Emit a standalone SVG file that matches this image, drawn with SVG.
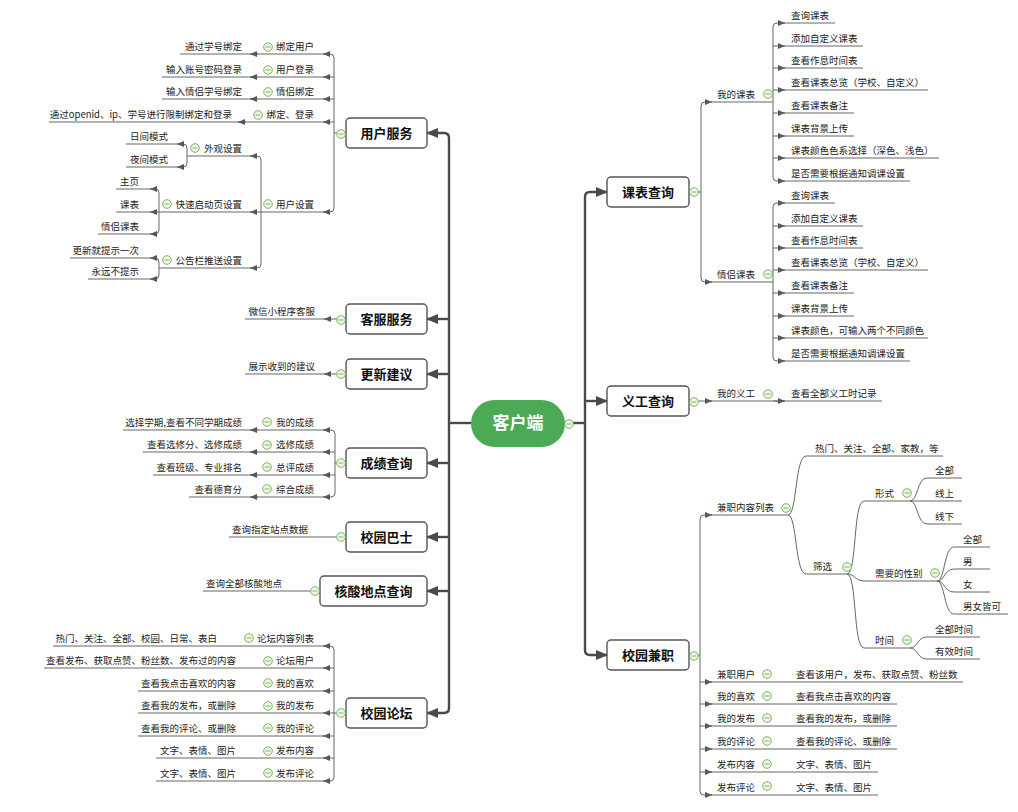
<svg xmlns="http://www.w3.org/2000/svg" xmlns:xlink="http://www.w3.org/1999/xlink" width="1018" height="812" viewBox="0 0 1018 812">
<style>
text{font-family:"Noto Sans CJK SC","Liberation Sans",sans-serif;fill:#222}
.t{font-size:9.5px}
.e{text-anchor:end}
.m{font-size:13px;font-weight:bold;text-anchor:middle;fill:#111}
.box{fill:#fff;stroke:#555;stroke-width:1.4}
.tr{fill:none;stroke:#4a4a4a;stroke-width:2.4}
.ln{fill:none;stroke:#666;stroke-width:1}
.ar{fill:none;stroke:#666;stroke-width:1;marker-end:url(#sa)}
.big{marker-end:url(#ba)}
</style>
<defs>
<marker id="ba" markerUnits="userSpaceOnUse" markerWidth="12" markerHeight="10" refX="11" refY="5" orient="auto"><path d="M0,0 L12,5 L0,10 z" fill="#4a4a4a"/></marker>
<marker id="sa" markerUnits="userSpaceOnUse" markerWidth="7" markerHeight="6" refX="7" refY="3" orient="auto"><path d="M0,0 L7,3 L0,6 z" fill="#555"/></marker>
<g id="col"><circle r="4.3" fill="#eef7e6" stroke="#7bb661" stroke-width="1"/><line x1="-2.4" x2="2.4" y1="0" y2="0" stroke="#7bb661" stroke-width="1"/></g>
</defs>
<rect width="1018" height="812" fill="#fff"/>

<g id="connectors">
<!-- main trunks -->
<path class="tr" d="M449,423 L471,423"/>
<path class="tr" d="M565,423 L585,423"/>
<path class="tr big" d="M449,423 L449,138 Q449,133 444,133 L427,133"/>
<path class="tr big" d="M449,319 L427,319"/>
<path class="tr big" d="M449,374 L427,374"/>
<path class="tr big" d="M449,463 L427,463"/>
<path class="tr big" d="M449,537 L427,537"/>
<path class="tr big" d="M449,591 L427,591"/>
<path class="tr big" d="M449,423 L449,708 Q449,713 444,713 L427,713"/>
<path class="tr big" d="M585,423 L585,197 Q585,192 590,192 L607,192"/>
<path class="tr big" d="M585,401 L607,401"/>
<path class="tr big" d="M585,423 L585,650 Q585,655 590,655 L607,655"/>

<!-- 用户服务 -->
<path class="ln" d="M346,133 L334,133"/>
<path class="ar" d="M334,133 L334,58 Q334,54 330,54 L323,54"/>
<path class="ar" d="M334,77 L323,77"/>
<path class="ar" d="M334,99 L323,99"/>
<path class="ar" d="M334,122 L323,122"/>
<path class="ar" d="M334,133 L334,208 Q334,212 330,212 L323,212"/>
<path class="ln" d="M327,54 H180"/><path class="ar" d="M258,54 H250"/>
<path class="ln" d="M327,77 H162"/><path class="ar" d="M258,77 H250"/>
<path class="ln" d="M327,99 H162"/><path class="ar" d="M258,99 H250"/>
<path class="ln" d="M327,122 H49"/><path class="ar" d="M246,122 H238"/>
<path class="ln" d="M327,212 H261"/>
<path class="ar" d="M261,212 L261,160 Q261,156 257,156 L250,156"/>
<path class="ar" d="M261,212 L250,212"/>
<path class="ar" d="M261,212 L261,264 Q261,268 257,268 L250,268"/>
<path class="ln" d="M254,156 H187"/>
<path class="ar" d="M187,156 L187,148 Q187,144 183,144 L177,144"/>
<path class="ar" d="M187,156 L187,163 Q187,167 183,167 L177,167"/>
<path class="ln" d="M181,144 H126"/><path class="ln" d="M181,167 H126"/>
<path class="ln" d="M254,212 H159"/>
<path class="ar" d="M159,212 L159,193 Q159,189 155,189 L150,189"/>
<path class="ar" d="M159,212 L150,212"/>
<path class="ar" d="M159,212 L159,230 Q159,234 155,234 L150,234"/>
<path class="ln" d="M154,189 H116"/><path class="ln" d="M154,212 H116"/><path class="ln" d="M154,234 H98"/>
<path class="ln" d="M254,268 H159"/>
<path class="ar" d="M159,268 L159,262 Q159,258 155,258 L150,258"/>
<path class="ar" d="M159,268 L159,275 Q159,279 155,279 L150,279"/>
<path class="ln" d="M154,258 H70"/><path class="ln" d="M154,279 H88"/>

<!-- 客服服务 / 更新建议 -->
<path class="ar" d="M346,319 L324,319"/><path class="ln" d="M328,319 H245"/>
<path class="ar" d="M346,374 L324,374"/><path class="ln" d="M328,374 H245"/>

<!-- 成绩查询 -->
<path class="ln" d="M346,463 L335,463"/>
<path class="ar" d="M335,463 L335,434 Q335,430 331,430 L323,430"/>
<path class="ar" d="M335,452 L323,452"/>
<path class="ar" d="M335,475 L323,475"/>
<path class="ar" d="M335,463 L335,493 Q335,497 331,497 L323,497"/>
<path class="ln" d="M327,430 H123"/><path class="ar" d="M258,430 H250"/>
<path class="ln" d="M327,452 H143"/><path class="ar" d="M258,452 H250"/>
<path class="ln" d="M327,475 H153"/><path class="ar" d="M258,475 H250"/>
<path class="ln" d="M327,497 H189"/><path class="ar" d="M258,497 H250"/>

<!-- 校园巴士 / 核酸 -->
<path class="ln" d="M346,537 H229"/>
<path class="ln" d="M320,591 H203"/>

<!-- 校园论坛 -->
<path class="ln" d="M346,713 L334,713"/>
<path class="ar" d="M334,713 L334,650 Q334,646 330,646 L323,646"/>
<path class="ar" d="M334,668 L323,668"/>
<path class="ar" d="M334,691 L323,691"/>
<path class="ar" d="M334,713 L323,713"/>
<path class="ar" d="M334,736 L323,736"/>
<path class="ar" d="M334,758 L323,758"/>
<path class="ar" d="M334,713 L334,777 Q334,781 330,781 L323,781"/>
<path class="ln" d="M327,646 H53"/>
<path class="ln" d="M327,668 H44"/>
<path class="ln" d="M327,691 H138"/>
<path class="ln" d="M327,713 H138"/>
<path class="ln" d="M327,736 H138"/>
<path class="ln" d="M327,758 H156"/>
<path class="ln" d="M327,781 H156"/>

<!-- 课表查询 -->
<path class="ln" d="M689,192 L701,192"/>
<path class="ar" d="M701,192 L701,106 Q701,102 705,102 L712,102"/>
<path class="ar" d="M701,192 L701,278 Q701,282 705,282 L712,282"/>
<path class="ln" d="M706,102 H773"/>
<path class="ar" d="M773,102 L773,27 Q773,23 777,23 L785,23"/>
<path class="ar" d="M773,46 L785,46"/>
<path class="ar" d="M773,68 L785,68"/>
<path class="ar" d="M773,90 L785,90"/>
<path class="ar" d="M773,113 L785,113"/>
<path class="ar" d="M773,136 L785,136"/>
<path class="ar" d="M773,158 L785,158"/>
<path class="ar" d="M773,102 L773,177 Q773,181 777,181 L785,181"/>
<path class="ln" d="M779,23 H835"/>
<path class="ln" d="M779,46 H863"/>
<path class="ln" d="M779,68 H863"/>
<path class="ln" d="M779,90 H928"/>
<path class="ln" d="M779,113 H854"/>
<path class="ln" d="M779,136 H854"/>
<path class="ln" d="M779,158 H939"/>
<path class="ln" d="M779,181 H910"/>
<path class="ln" d="M706,282 H773"/>
<path class="ar" d="M773,282 L773,207 Q773,203 777,203 L785,203"/>
<path class="ar" d="M773,226 L785,226"/>
<path class="ar" d="M773,248 L785,248"/>
<path class="ar" d="M773,270 L785,270"/>
<path class="ar" d="M773,293 L785,293"/>
<path class="ar" d="M773,316 L785,316"/>
<path class="ar" d="M773,338 L785,338"/>
<path class="ar" d="M773,282 L773,357 Q773,361 777,361 L785,361"/>
<path class="ln" d="M779,203 H835"/>
<path class="ln" d="M779,226 H863"/>
<path class="ln" d="M779,248 H863"/>
<path class="ln" d="M779,270 H928"/>
<path class="ln" d="M779,293 H854"/>
<path class="ln" d="M779,316 H854"/>
<path class="ln" d="M779,338 H928"/>
<path class="ln" d="M779,361 H910"/>

<!-- 义工查询 -->
<path class="ar" d="M689,401 L712,401"/>
<path class="ln" d="M706,401 H882"/>
<path class="ar" d="M773,401 L785,401"/>

<!-- 校园兼职 -->
<path class="ln" d="M689,655 L700,655"/>
<path class="ar" d="M700,655 L700,519 Q700,515 704,515 L712,515"/>
<path class="ar" d="M700,682 L712,682"/>
<path class="ar" d="M700,704 L712,704"/>
<path class="ar" d="M700,726 L712,726"/>
<path class="ar" d="M700,749 L712,749"/>
<path class="ar" d="M700,772 L712,772"/>
<path class="ar" d="M700,655 L700,791 Q700,795 704,795 L712,795"/>
<path class="ln" d="M706,515 H788"/>
<path class="ln" d="M788,515 C797,515 795,456 806,456 L943,456"/>
<path class="ln" d="M788,515 C797,515 795,574 806,574 L847,574"/>
<path class="ln" d="M847,574 C857,574 853,501 864,501 L910,501"/>
<path class="ln" d="M847,574 C855,574 855,581 864,581 L937,581"/>
<path class="ln" d="M847,574 C857,574 853,648 864,648 L910,648"/>
<path class="ln" d="M910,501 C918,501 917,478 927,478 L962,478"/>
<path class="ln" d="M910,501 L962,501"/>
<path class="ln" d="M910,501 C918,501 917,524 927,524 L962,524"/>
<path class="ln" d="M937,581 C945,581 944,547 954,547 L990,547"/>
<path class="ln" d="M937,581 C945,581 944,569 954,569 L990,569"/>
<path class="ln" d="M937,581 C945,581 944,592 954,592 L990,592"/>
<path class="ln" d="M937,581 C945,581 944,614 954,614 L1008,614"/>
<path class="ln" d="M910,648 C918,648 917,637 927,637 L980,637"/>
<path class="ln" d="M910,648 C918,648 917,659 927,659 L980,659"/>
<path class="ln" d="M706,682 H963"/>
<path class="ln" d="M706,704 H897"/>
<path class="ln" d="M706,726 H897"/>
<path class="ln" d="M706,749 H897"/>
<path class="ln" d="M706,772 H878"/>
<path class="ln" d="M706,795 H878"/>
</g>

<!-- center -->
<g id="n-root">
<rect x="471" y="400" width="94" height="47" rx="23.5" fill="#4caa57"/>
<text x="518" y="429" style="font-size:17px;font-weight:bold;fill:#fff;text-anchor:middle">客户端</text>
<use href="#col" x="569" y="424"/>
</g>

<!-- left main nodes -->
<g id="n-yhfw"><rect class="box" x="346" y="118" width="81" height="30" rx="4"/><text class="m" x="386.5" y="138">用户服务</text><use href="#col" x="341" y="134"/></g>
<g id="n-kffw"><rect class="box" x="346" y="304" width="81" height="30" rx="4"/><text class="m" x="386.5" y="324">客服服务</text><use href="#col" x="341" y="320"/></g>
<g id="n-gxjy"><rect class="box" x="346" y="359" width="81" height="30" rx="4"/><text class="m" x="386.5" y="379">更新建议</text><use href="#col" x="341" y="374"/></g>
<g id="n-cjcx"><rect class="box" x="346" y="448" width="81" height="30" rx="4"/><text class="m" x="386.5" y="468">成绩查询</text><use href="#col" x="341" y="463"/></g>
<g id="n-xybs"><rect class="box" x="346" y="522" width="81" height="30" rx="4"/><text class="m" x="386.5" y="542">校园巴士</text><use href="#col" x="341" y="537"/></g>
<g id="n-hsdd"><rect class="box" x="320" y="576" width="107" height="30" rx="4"/><text class="m" x="373.5" y="596">核酸地点查询</text><use href="#col" x="315" y="591"/></g>
<g id="n-xylt"><rect class="box" x="346" y="698" width="81" height="30" rx="4"/><text class="m" x="386.5" y="718">校园论坛</text><use href="#col" x="341" y="713"/></g>

<!-- right main nodes -->
<g id="n-kbcx"><rect class="box" x="607" y="177" width="82" height="30" rx="4"/><text class="m" x="648" y="197">课表查询</text><use href="#col" x="694" y="192"/></g>
<g id="n-ygcx"><rect class="box" x="607" y="386" width="82" height="30" rx="4"/><text class="m" x="648" y="406">义工查询</text><use href="#col" x="694" y="402"/></g>
<g id="n-xyjz"><rect class="box" x="607" y="640" width="82" height="30" rx="4"/><text class="m" x="648" y="660">校园兼职</text><use href="#col" x="694" y="656"/></g>

<!-- 用户服务 children -->
<g id="n-bdyh"><text class="t e" x="314" y="50">绑定用户</text><use href="#col" x="268" y="47"/></g>
<g id="n-bdyh-1"><text class="t e" x="242" y="50">通过学号绑定</text></g>
<g id="n-yhdl"><text class="t e" x="314" y="73">用户登录</text><use href="#col" x="268" y="70"/></g>
<g id="n-yhdl-1"><text class="t e" x="242" y="73">输入账号密码登录</text></g>
<g id="n-qlbd"><text class="t e" x="314" y="95">情侣绑定</text><use href="#col" x="268" y="92"/></g>
<g id="n-qlbd-1"><text class="t e" x="242" y="95">输入情侣学号绑定</text></g>
<g id="n-bddl"><text class="t e" x="314" y="118">绑定、登录</text><use href="#col" x="258" y="115"/></g>
<g id="n-bddl-1"><text class="t e" x="232" y="118">通过openid、ip、学号进行限制绑定和登录</text></g>
<g id="n-yhsz"><text class="t e" x="314" y="208">用户设置</text><use href="#col" x="268" y="204"/></g>
<g id="n-wgsz"><text class="t e" x="242" y="152">外观设置</text><use href="#col" x="195" y="148"/></g>
<g id="n-rjms"><text class="t e" x="168" y="140">日间模式</text></g>
<g id="n-yjms"><text class="t e" x="168" y="163">夜间模式</text></g>
<g id="n-ksqd"><text class="t e" x="242" y="208">快速启动页设置</text><use href="#col" x="167" y="204"/></g>
<g id="n-zy"><text class="t e" x="139" y="185">主页</text></g>
<g id="n-kb"><text class="t e" x="139" y="208">课表</text></g>
<g id="n-qlkb0"><text class="t e" x="139" y="230">情侣课表</text></g>
<g id="n-ggl"><text class="t e" x="242" y="264">公告栏推送设置</text><use href="#col" x="167" y="260"/></g>
<g id="n-gxts"><text class="t e" x="139" y="254">更新就提示一次</text></g>
<g id="n-yybts"><text class="t e" x="139" y="275">永远不提示</text></g>

<g id="n-wxkf"><text class="t e" x="315" y="315">微信小程序客服</text></g>
<g id="n-zsjy"><text class="t e" x="315" y="370">展示收到的建议</text></g>

<!-- 成绩查询 children -->
<g id="n-wdcj"><text class="t e" x="314" y="426">我的成绩</text><use href="#col" x="267" y="422"/></g>
<g id="n-wdcj-1"><text class="t e" x="242" y="426">选择学期,查看不同学期成绩</text></g>
<g id="n-xxcj"><text class="t e" x="314" y="448">选修成绩</text><use href="#col" x="267" y="445"/></g>
<g id="n-xxcj-1"><text class="t e" x="242" y="448">查看选修分、选修成绩</text></g>
<g id="n-zpcj"><text class="t e" x="314" y="471">总评成绩</text><use href="#col" x="267" y="467"/></g>
<g id="n-zpcj-1"><text class="t e" x="242" y="471">查看班级、专业排名</text></g>
<g id="n-zhcj"><text class="t e" x="314" y="493">综合成绩</text><use href="#col" x="267" y="489"/></g>
<g id="n-zhcj-1"><text class="t e" x="242" y="493">查看德育分</text></g>

<g id="n-cxzd"><text class="t e" x="308" y="533">查询指定站点数据</text></g>
<g id="n-cxhs"><text class="t e" x="282" y="587">查询全部核酸地点</text></g>

<!-- 校园论坛 children -->
<g id="n-ltnr"><text class="t e" x="314" y="642">论坛内容列表</text><use href="#col" x="249" y="638"/></g>
<g id="n-ltnr-1"><text class="t e" x="217" y="642">热门、关注、全部、校园、日常、表白</text></g>
<g id="n-ltyh"><text class="t e" x="314" y="664">论坛用户</text><use href="#col" x="268" y="661"/></g>
<g id="n-ltyh-1"><text class="t e" x="236" y="664">查看发布、获取点赞、粉丝数、发布过的内容</text></g>
<g id="n-wdxh"><text class="t e" x="314" y="687">我的喜欢</text><use href="#col" x="268" y="683"/></g>
<g id="n-wdxh-1"><text class="t e" x="236" y="687">查看我点击喜欢的内容</text></g>
<g id="n-wdfb"><text class="t e" x="314" y="709">我的发布</text><use href="#col" x="268" y="706"/></g>
<g id="n-wdfb-1"><text class="t e" x="236" y="709">查看我的发布，或删除</text></g>
<g id="n-wdpl"><text class="t e" x="314" y="732">我的评论</text><use href="#col" x="268" y="728"/></g>
<g id="n-wdpl-1"><text class="t e" x="236" y="732">查看我的评论、或删除</text></g>
<g id="n-fbnr"><text class="t e" x="314" y="754">发布内容</text><use href="#col" x="268" y="751"/></g>
<g id="n-fbnr-1"><text class="t e" x="236" y="754">文字、表情、图片</text></g>
<g id="n-fbpl"><text class="t e" x="314" y="777">发布评论</text><use href="#col" x="268" y="773"/></g>
<g id="n-fbpl-1"><text class="t e" x="236" y="777">文字、表情、图片</text></g>

<!-- 课表查询 children -->
<g id="n-wdkb"><text class="t" x="717" y="98">我的课表</text><use href="#col" x="768" y="94"/></g>
<g id="n-wdkb-c">
<text class="t" x="791" y="19">查询课表</text>
<text class="t" x="791" y="42">添加自定义课表</text>
<text class="t" x="791" y="64">查看作息时间表</text>
<text class="t" x="791" y="86">查看课表总览（学校、自定义）</text>
<text class="t" x="791" y="109">查看课表备注</text>
<text class="t" x="791" y="132">课表背景上传</text>
<text class="t" x="791" y="154">课表颜色色系选择（深色、浅色）</text>
<text class="t" x="791" y="177">是否需要根据通知调课设置</text>
</g>
<g id="n-qlkb"><text class="t" x="717" y="278">情侣课表</text><use href="#col" x="768" y="274"/></g>
<g id="n-qlkb-c">
<text class="t" x="791" y="199">查询课表</text>
<text class="t" x="791" y="222">添加自定义课表</text>
<text class="t" x="791" y="244">查看作息时间表</text>
<text class="t" x="791" y="266">查看课表总览（学校、自定义）</text>
<text class="t" x="791" y="289">查看课表备注</text>
<text class="t" x="791" y="312">课表背景上传</text>
<text class="t" x="791" y="334">课表颜色，可输入两个不同颜色</text>
<text class="t" x="791" y="357">是否需要根据通知调课设置</text>
</g>

<!-- 义工查询 children -->
<g id="n-wdyg"><text class="t" x="717" y="397">我的义工</text><use href="#col" x="768" y="394"/></g>
<g id="n-wdyg-1"><text class="t" x="791" y="397">查看全部义工时记录</text></g>

<!-- 校园兼职 children -->
<g id="n-jzlb"><text class="t" x="717" y="511">兼职内容列表</text><use href="#col" x="786" y="508"/></g>
<g id="n-rm"><text class="t" x="815" y="452">热门、关注、全部、家教，等</text></g>
<g id="n-sx"><text class="t" x="813" y="570">筛选</text><use href="#col" x="847" y="567"/></g>
<g id="n-xs"><text class="t" x="875" y="497">形式</text><use href="#col" x="907" y="493"/></g>
<g id="n-xs-c">
<text class="t" x="935" y="474">全部</text>
<text class="t" x="935" y="497">线上</text>
<text class="t" x="935" y="520">线下</text>
</g>
<g id="n-xb"><text class="t" x="875" y="577">需要的性别</text><use href="#col" x="935" y="573"/></g>
<g id="n-xb-c">
<text class="t" x="963" y="543">全部</text>
<text class="t" x="963" y="565">男</text>
<text class="t" x="963" y="588">女</text>
<text class="t" x="963" y="610">男女皆可</text>
</g>
<g id="n-sj"><text class="t" x="875" y="644">时间</text><use href="#col" x="907" y="640"/></g>
<g id="n-sj-c">
<text class="t" x="935" y="633">全部时间</text>
<text class="t" x="935" y="655">有效时间</text>
</g>
<g id="n-jzyh"><text class="t" x="717" y="678">兼职用户</text><use href="#col" x="767" y="674"/><text class="t" x="796" y="678">查看该用户，发布、获取点赞、粉丝数</text></g>
<g id="n-jzxh"><text class="t" x="717" y="700">我的喜欢</text><use href="#col" x="767" y="696"/><text class="t" x="796" y="700">查看我点击喜欢的内容</text></g>
<g id="n-jzfb"><text class="t" x="717" y="722">我的发布</text><use href="#col" x="767" y="718"/><text class="t" x="796" y="722">查看我的发布，或删除</text></g>
<g id="n-jzpl"><text class="t" x="717" y="745">我的评论</text><use href="#col" x="767" y="741"/><text class="t" x="796" y="745">查看我的评论、或删除</text></g>
<g id="n-jzfbnr"><text class="t" x="717" y="768">发布内容</text><use href="#col" x="767" y="764"/><text class="t" x="796" y="768">文字、表情、图片</text></g>
<g id="n-jzfbpl"><text class="t" x="717" y="791">发布评论</text><use href="#col" x="767" y="786"/><text class="t" x="796" y="791">文字、表情、图片</text></g>
</svg>
